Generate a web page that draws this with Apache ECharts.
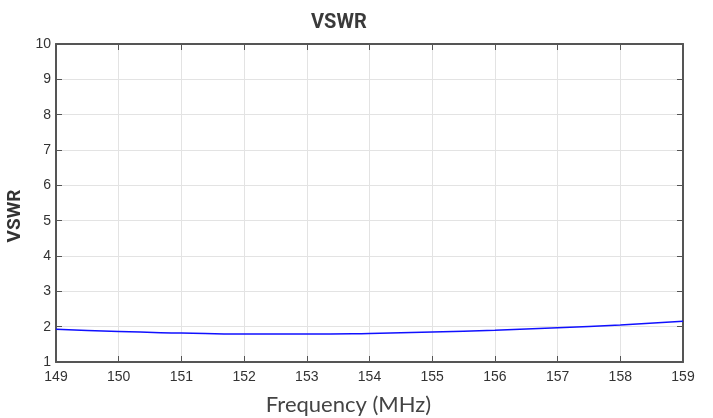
<!DOCTYPE html>
<html>
<head>
<meta charset="utf-8">
<script src="https://cdn.jsdelivr.net/npm/echarts@6/dist/echarts.min.js"></script>
<style>html,body{margin:0;padding:0;background:#fff}#c{width:713px;height:418px}</style>
</head>
<body>
<div id="c"></div>
<script>
const freqs = [149, 150, 151, 152, 153, 154, 155, 156, 157, 158, 159];
const vswr = [1.93, 1.86, 1.82, 1.79, 1.79, 1.81, 1.85, 1.90, 1.97, 2.05, 2.15];
const xTicks = [149, 150, 151, 152, 153, 154, 155, 156, 157, 158, 159];
const yTicks = [1, 2, 3, 4, 5, 6, 7, 8, 9, 10];

const chart = echarts.init(document.getElementById('c'));
const axisLineColor = '#555';
const tickLabel = { color: '#333', fontFamily: 'Liberation Sans, Arial, sans-serif', fontSize: 14 };
chart.setOption({
  animation: false,
  title: {
    text: 'VSWR', left: 306, top: 8,
    textStyle: { fontFamily: 'Roboto, sans-serif', fontWeight: 'bold', fontSize: 20, color: '#3a3a3a' }
  },
  grid: { left: 56, right: 30, top: 44, bottom: 56, containLabel: false, outerBoundsMode: 'none' },
  xAxis: [{
    type: 'value', min: xTicks[0], max: xTicks[xTicks.length - 1], interval: 1,
    name: 'Frequency (MHz)', nameLocation: 'middle', nameGap: 32,
    nameTextStyle: { fontFamily: 'Lato, sans-serif', fontSize: 22, color: '#444', padding: [0, 42, 0, 0] },
    axisLine: { lineStyle: { color: axisLineColor, width: 2 } },
    axisTick: { inside: true, length: 6, lineStyle: { color: axisLineColor } },
    axisLabel: Object.assign({ margin: 8 }, tickLabel),
    splitLine: { lineStyle: { color: '#e3e3e3' } }
  }, {
    type: 'value', position: 'top', min: xTicks[0], max: xTicks[xTicks.length - 1], interval: 1,
    axisLine: { lineStyle: { color: axisLineColor, width: 2 } },
    axisTick: { inside: true, length: 6, lineStyle: { color: axisLineColor } },
    axisLabel: { show: false }, splitLine: { show: false }
  }],
  yAxis: [{
    type: 'value', min: yTicks[0], max: yTicks[yTicks.length - 1], interval: 1,
    name: 'VSWR', nameLocation: 'middle', nameGap: 28, nameRotate: 90,
    nameTextStyle: { fontFamily: 'Roboto, sans-serif', fontWeight: 'bold', fontSize: 19, color: '#333', padding: [0, 26, 0, 0] },
    axisLine: { show: true, lineStyle: { color: axisLineColor, width: 2 } },
    axisTick: { show: true, inside: true, length: 6, lineStyle: { color: axisLineColor } },
    axisLabel: Object.assign({ margin: 5 }, tickLabel),
    splitLine: { lineStyle: { color: '#e3e3e3' } }
  }, {
    type: 'value', position: 'right', min: yTicks[0], max: yTicks[yTicks.length - 1], interval: 1,
    axisLine: { show: true, lineStyle: { color: axisLineColor, width: 2 } },
    axisTick: { show: true, inside: true, length: 6, lineStyle: { color: axisLineColor } },
    axisLabel: { show: false }, splitLine: { show: false }
  }],
  series: [{
    type: 'line', smooth: true, showSymbol: false,
    data: freqs.map((f, i) => [f, vswr[i]]),
    lineStyle: { color: '#1010ff', width: 1.5 }
  }]
});
</script>
</body>
</html>
